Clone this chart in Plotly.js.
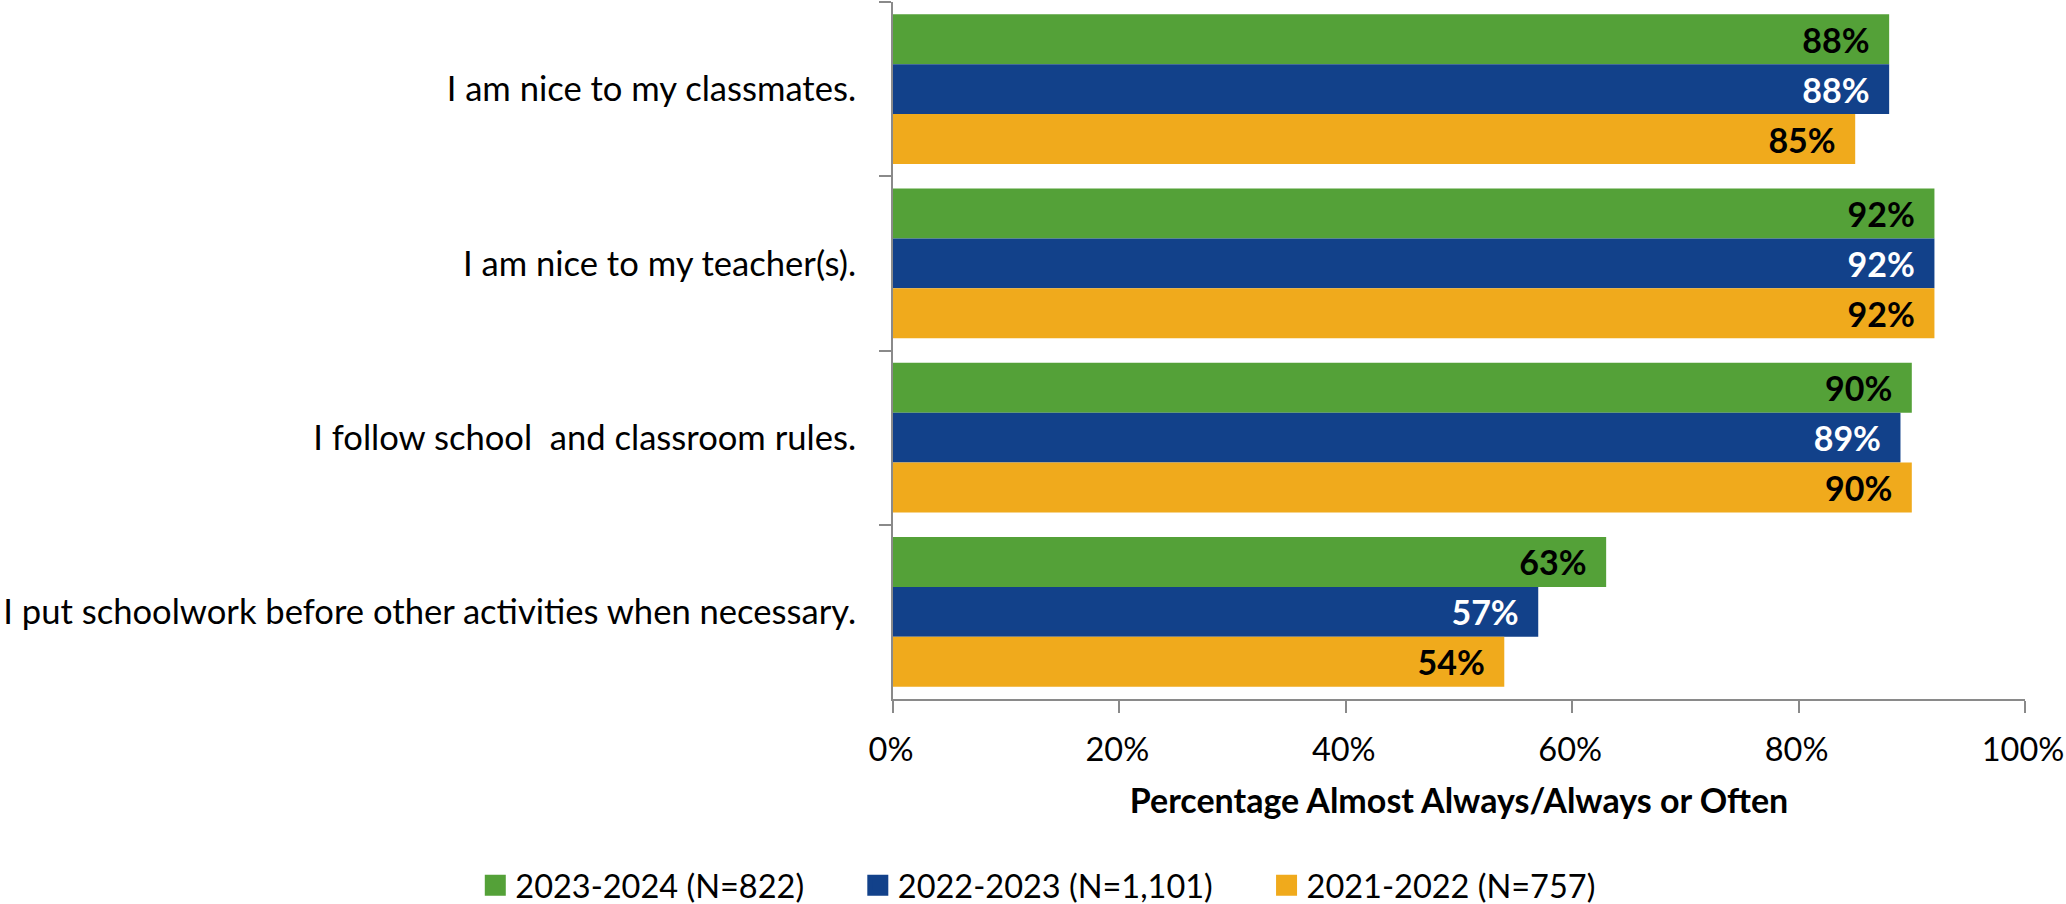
<!DOCTYPE html>
<html>
<head>
<meta charset="utf-8">
<script src="https://cdn.plot.ly/plotly-3.0.1.min.js"></script>
<style>
html, body { margin: 0; padding: 0; background: #ffffff; }
#chart { width: 2066px; height: 904px; }
</style>
</head>
<body>
<div id="chart"></div>
<script>
const categories = [
  "I am nice to my classmates.",
  "I am nice to my teacher(s).",
  "I follow school  and classroom rules.",
  "I put schoolwork before other activities when necessary."
];
const seriesNames = ["2023-2024 (N=822)", "2022-2023 (N=1,101)", "2021-2022 (N=757)"];
const values2023_2024 = [88, 92, 90, 63];
const values2022_2023 = [88, 92, 89, 57];
const values2021_2022 = [85, 92, 90, 54];
const seriesValues = [values2023_2024, values2022_2023, values2021_2022];
const seriesColors = ["#54A138", "#12418A", "#F0AA1C"];
const labelColors = ["#000000", "#ffffff", "#000000"];
const xTickValues = [0, 20, 40, 60, 80, 100];
const xTickLabels = ["0%", "20%", "40%", "60%", "80%", "100%"];

const FONT = "Lato, 'Open Sans', sans-serif";
const FS = 34;
const PAD = "\u00a0\u00a0";

const traces = [];
seriesValues.forEach((vals, i) => {
  traces.push({
    type: "bar",
    orientation: "h",
    y: categories,
    x: vals,
    name: seriesNames[i],
    showlegend: false,
    marker: { color: seriesColors[i] },
    text: vals.map(v => v + "%" + PAD),
    texttemplate: "%{text}",
    textposition: "inside",
    insidetextanchor: "end",
    textangle: 0,
    insidetextfont: { family: FONT, size: FS, color: labelColors[i], weight: "bold" },
    hoverinfo: "skip"
  });
});
// legend entries (square swatches)
seriesNames.forEach((name, i) => {
  traces.push({
    type: "scatter",
    mode: "markers",
    x: [null],
    y: [null],
    name: name + "\u2002\u2002\u2002",
    showlegend: true,
    marker: { symbol: "square", size: 16, color: seriesColors[i], line: { color: seriesColors[i], width: 5 } },
    hoverinfo: "skip"
  });
});

const layout = {
  width: 2066,
  height: 904,
  margin: { l: 893, r: 41, t: 2, b: 205, autoexpand: false },
  paper_bgcolor: "#ffffff",
  plot_bgcolor: "#ffffff",
  font: { family: FONT, size: FS, color: "#000000" },
  barmode: "group",
  bargap: 0.14,
  bargroupgap: 0,
  showlegend: true,
  legend: {
    orientation: "h",
    x: -0.369,
    xanchor: "left",
    y: -0.2676,
    yanchor: "middle",
    font: { family: FONT, size: 32.5, color: "#000000" },
    itemclick: false,
    itemdoubleclick: false
  },
  xaxis: {
    range: [0, 100.0001],
    tickvals: xTickValues,
    ticktext: xTickLabels,
    showgrid: false,
    zeroline: false,
    showline: true,
    linecolor: "#8A8A8A",
    linewidth: 2,
    ticks: "outside",
    ticklen: 12,
    tickwidth: 2,
    tickcolor: "#8A8A8A",
    tickfont: { family: FONT, size: 32.5, color: "#000000" },
    ticklabelstandoff: 9,
    ticklabelshift: -2,
    ticklabeloverflow: "allow",
    title: {
      text: "Percentage Almost Always/Always or Often",
      font: { family: FONT, size: FS, color: "#000000", weight: "bold" },
      standoff: 22
    },
    fixedrange: true
  },
  yaxis: {
    type: "category",
    autorange: "reversed",
    showgrid: false,
    zeroline: false,
    showline: true,
    linecolor: "#8A8A8A",
    linewidth: 2,
    ticks: "outside",
    tickson: "boundaries",
    ticklen: 12,
    tickwidth: 2,
    tickcolor: "#8A8A8A",
    tickfont: { family: FONT, size: 34.6, color: "#000000" },
    ticklabelstandoff: 28,
    fixedrange: true
  }
};

Plotly.newPlot("chart", traces, layout, { displayModeBar: false, staticPlot: true });
</script>
</body>
</html>
